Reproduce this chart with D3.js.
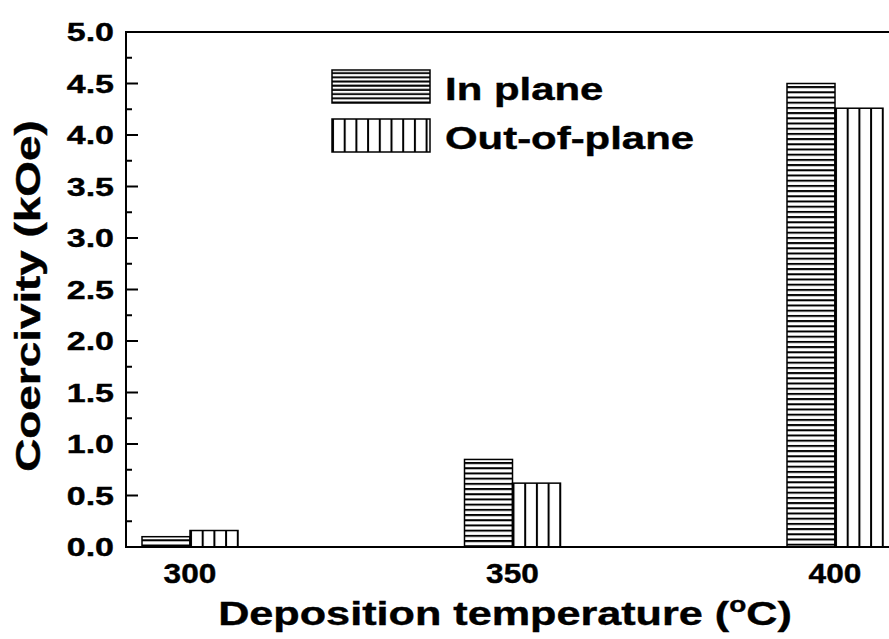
<!DOCTYPE html>
<html>
<head>
<meta charset="utf-8">
<script src="https://cdn.jsdelivr.net/npm/d3@7"></script>
<style>
  html, body { margin: 0; padding: 0; background: #fff; }
  svg { display: block; }
  text { font-family: "Liberation Sans", Arial, Helvetica, sans-serif; font-weight: bold; fill: #000; stroke: #000; stroke-width: 0.4; }
</style>
</head>
<body>
<svg id="chart" width="889" height="639"></svg>
<script>
// Deposition temperatures (°C)
const temperatures = [300, 350, 400];
// Coercivity (kOe)
const inPlane = [0.10, 0.85, 4.50];
const outOfPlane = [0.16, 0.62, 4.26];
const seriesNames = ["In plane", "Out-of-plane"];
const yTickValues = [0, 0.5, 1, 1.5, 2, 2.5, 3, 3.5, 4, 4.5, 5];
const yMinorValues = [0.25, 0.75, 1.25, 1.75, 2.25, 2.75, 3.25, 3.75, 4.25, 4.75];

const W = 889, H = 639;
const plot = { left: 126, top: 32, right: 889, bottom: 547 };
const barW = 48;
const SX = 1.3; // wide lettering

const svg = d3.select("#chart");
const defs = svg.append("defs");

const x = d3.scaleLinear().domain([300, 400]).range([190, 835]);
const y = d3.scaleLinear().domain([0, 5]).range([plot.bottom, plot.top]);

// hatch patterns anchored to each rectangle
function hPattern(id, x0, y0, step) {
  const s = step || 5.2;
  const p = defs.append("pattern").attr("id", id)
    .attr("patternUnits", "userSpaceOnUse")
    .attr("x", x0).attr("y", y0).attr("width", 10).attr("height", s);
  p.append("rect").attr("width", 10).attr("height", s).attr("fill", "#fff");
  p.append("rect").attr("y", s / 2).attr("width", 10).attr("height", 2).attr("fill", "#000");
  return `url(#${id})`;
}
function vPattern(id, x0, y0) {
  const p = defs.append("pattern").attr("id", id)
    .attr("patternUnits", "userSpaceOnUse")
    .attr("x", x0).attr("y", y0).attr("width", 11.7).attr("height", 10);
  p.append("rect").attr("width", 11.7).attr("height", 10).attr("fill", "#fff");
  p.append("rect").attr("x", 0).attr("width", 2).attr("height", 10).attr("fill", "#000");
  return `url(#${id})`;
}

function wideText(g, str, tx, ty, size, anchor, sx) {
  return g.append("text")
    .attr("transform", `translate(${tx},${ty}) scale(${sx || SX},1)`)
    .attr("font-size", size)
    .attr("text-anchor", anchor || "start")
    .text(str);
}

// bars
const barsG = svg.append("g");
temperatures.forEach((t, i) => {
  const xi = x(t);
  // in-plane bar sits left of the category position
  const y1 = y(inPlane[i]);
  barsG.append("rect")
    .attr("x", xi - barW).attr("y", y1)
    .attr("width", barW).attr("height", y(0) - y1)
    .attr("fill", hPattern("hp" + i, xi - barW, y1))
    .attr("stroke", "#000").attr("stroke-width", 1.5);
  // out-of-plane bar sits right of it
  const y2 = y(outOfPlane[i]);
  barsG.append("rect")
    .attr("x", xi).attr("y", y2)
    .attr("width", barW).attr("height", y(0) - y2)
    .attr("fill", vPattern("vp" + i, xi, y2))
    .attr("stroke", "#000").attr("stroke-width", 1.5);
});

// frame lines
const axisG = svg.append("g").attr("stroke", "#000").attr("stroke-width", 2).attr("fill", "none");
axisG.append("line").attr("x1", plot.left).attr("x2", plot.left).attr("y1", plot.top - 1).attr("y2", plot.bottom + 1);
axisG.append("line").attr("x1", plot.left - 1).attr("x2", W).attr("y1", plot.top).attr("y2", plot.top);
axisG.append("line").attr("x1", plot.left - 1).attr("x2", W).attr("y1", plot.bottom).attr("y2", plot.bottom);

// y ticks (inward)
axisG.selectAll(".maj").data(yTickValues).join("line")
  .attr("class", "maj")
  .attr("x1", plot.left).attr("x2", plot.left + 12)
  .attr("y1", d => y(d)).attr("y2", d => y(d));
axisG.selectAll(".min").data(yMinorValues).join("line")
  .attr("class", "min")
  .attr("x1", plot.left).attr("x2", plot.left + 6)
  .attr("y1", d => y(d)).attr("y2", d => y(d));

// y tick labels
const labelG = svg.append("g");
yTickValues.forEach(v => {
  wideText(labelG, d3.format(".1f")(v), 114, y(v) + 9, 25, "end", 1.36);
});

// x tick labels
temperatures.forEach(t => {
  wideText(labelG, String(t), x(t), 583, 28, "middle", 1.13);
});

// axis titles
svg.append("text")
  .attr("transform", `translate(40,296) rotate(-90) scale(1.31,1)`)
  .attr("font-size", 35).attr("text-anchor", "middle")
  .text("Coercivity (kOe)");

const xt = svg.append("text")
  .attr("transform", `translate(505,625) scale(1.27,1)`)
  .attr("font-size", 34).attr("text-anchor", "middle");
xt.append("tspan").text("Deposition temperature (");
xt.append("tspan").attr("font-size", 22).attr("dy", -13).text("o");
xt.append("tspan").attr("dy", 13).text("C)");

// legend
const legG = svg.append("g");
const legRows = [
  { name: seriesNames[0], y0: 70, fill: hPattern("hleg", 332, 70, 4.2) },
  { name: seriesNames[1], y0: 119, fill: vPattern("vleg", 332, 119) }
];
legRows.forEach(r => {
  legG.append("rect").attr("x", 332).attr("y", r.y0).attr("width", 98).attr("height", 33)
    .attr("fill", r.fill).attr("stroke", "#000").attr("stroke-width", 1.5);
  wideText(legG, r.name, 445, r.y0 + 30, 32, "start", 1.31);
});
</script>
</body>
</html>
